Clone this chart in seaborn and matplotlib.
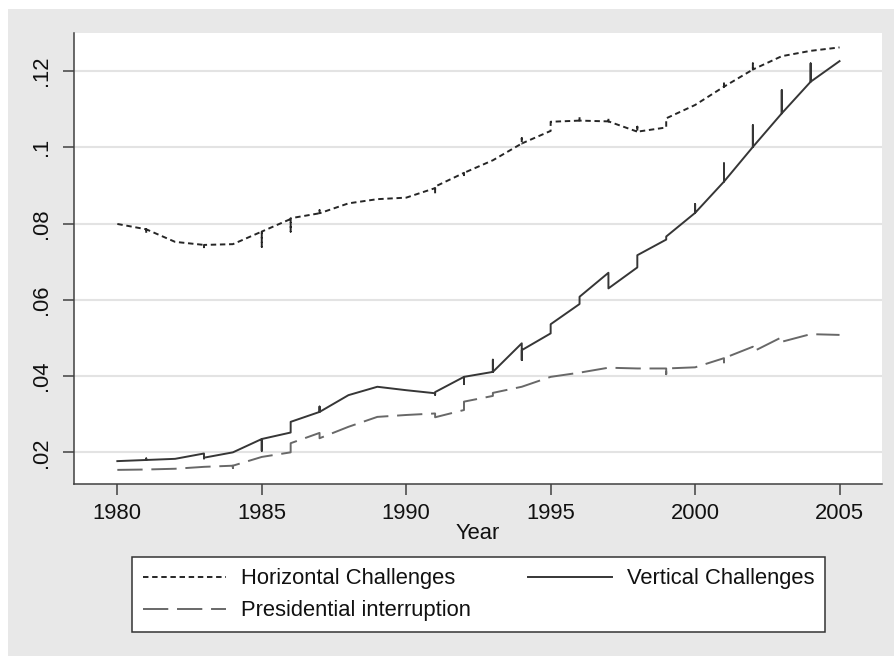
import matplotlib
matplotlib.use("Agg")
import matplotlib.pyplot as plt
from matplotlib.patches import Rectangle
import seaborn as sns
import pandas as pd
import numpy as np

plt.rcParams["font.family"] = ["Liberation Sans", "DejaVu Sans"]

# ---------------- data (per year: arrival value, tick extreme, departure value) -------------
years = list(range(1980, 2006))

horiz_in = [0.0799, 0.0785, 0.0752, 0.0744, 0.0746, 0.0779, 0.0812, 0.0827, 0.0853, 0.0864,
            0.0868, 0.0893, 0.0933, 0.0966, 0.1010, 0.1043, 0.1070, 0.1068, 0.1041, 0.1052,
            0.1111, 0.1159, 0.1204, 0.1239, 0.1253, 0.1262]
horiz_tick = [0.0799, 0.0774, 0.0752, 0.0738, 0.0746, 0.0739, 0.0779, 0.0835, 0.0853, 0.0864,
              0.0868, 0.0879, 0.0927, 0.0966, 0.1024, 0.1043, 0.1079, 0.1077, 0.1054, 0.1052,
              0.1111, 0.1172, 0.1220, 0.1239, 0.1253, 0.1262]
horiz_out = [0.0799, 0.0785, 0.0752, 0.0744, 0.0746, 0.0779, 0.0814, 0.0827, 0.0853, 0.0864,
             0.0868, 0.0897, 0.0933, 0.0966, 0.1010, 0.1067, 0.1070, 0.1068, 0.1041, 0.1076,
             0.1111, 0.1159, 0.1204, 0.1239, 0.1253, 0.1262]

vert_in = [0.0177, 0.0180, 0.0183, 0.0197, 0.0200, 0.0235, 0.0252, 0.0306, 0.0350, 0.0372,
           0.0363, 0.0355, 0.0398, 0.0411, 0.0486, 0.0512, 0.0589, 0.0671, 0.0685, 0.0758,
           0.0828, 0.0910, 0.1001, 0.1089, 0.1172, 0.1226]
vert_tick = [0.0177, 0.0184, 0.0183, 0.0184, 0.0200, 0.0204, 0.0252, 0.0320, 0.0350, 0.0372,
             0.0363, 0.0351, 0.0379, 0.0443, 0.0442, 0.0512, 0.0589, 0.0671, 0.0685, 0.0758,
             0.0851, 0.0958, 0.1058, 0.1150, 0.1220, 0.1226]
vert_out = [0.0177, 0.0180, 0.0183, 0.0186, 0.0200, 0.0235, 0.0280, 0.0306, 0.0350, 0.0372,
            0.0363, 0.0358, 0.0398, 0.0411, 0.0468, 0.0536, 0.0608, 0.0630, 0.0717, 0.0766,
            0.0828, 0.0910, 0.1001, 0.1089, 0.1172, 0.1226]

pres_in = [0.0154, 0.0155, 0.0157, 0.0162, 0.0165, 0.0188, 0.0200, 0.0251, 0.0267, 0.0293,
           0.0298, 0.0302, 0.0311, 0.0348, 0.0372, 0.0398, 0.0409, 0.0422, 0.0420, 0.0420,
           0.0423, 0.0447, 0.0477, 0.0502, 0.0510, 0.0508]
pres_tick = [0.0154, 0.0155, 0.0157, 0.0162, 0.0159, 0.0188, 0.0200, 0.0251, 0.0267, 0.0293,
             0.0298, 0.0302, 0.0311, 0.0348, 0.0372, 0.0398, 0.0409, 0.0422, 0.0420, 0.0405,
             0.0423, 0.0436, 0.0477, 0.0502, 0.0510, 0.0508]
pres_out = [0.0154, 0.0155, 0.0157, 0.0162, 0.0165, 0.0188, 0.0224, 0.0237, 0.0267, 0.0293,
            0.0298, 0.0292, 0.0333, 0.0356, 0.0372, 0.0398, 0.0409, 0.0422, 0.0420, 0.0420,
            0.0423, 0.0447, 0.0464, 0.0490, 0.0510, 0.0508]

series_names = ["Horizontal Challenges", "Vertical Challenges", "Presidential interruption"]
y_ticks = [0.02, 0.04, 0.06, 0.08, 0.10, 0.12]
y_tick_labels = [".02", ".04", ".06", ".08", ".1", ".12"]
x_ticks = [1980, 1985, 1990, 1995, 2000, 2005]

# ---------------- build long table ----------------
rows = []
for name, a, t, b in [(series_names[0], horiz_in, horiz_tick, horiz_out),
                      (series_names[1], vert_in, vert_tick, vert_out),
                      (series_names[2], pres_in, pres_tick, pres_out)]:
    for yr, v1, v2, v3 in zip(years, a, t, b):
        for v in (v1, v2, v3):
            rows.append({"Year": yr, "value": v, "series": name})
df = pd.DataFrame(rows)

# ---------------- figure ----------------
W, H = 894, 656
fig = plt.figure(figsize=(W / 100, H / 100), dpi=100, facecolor="white")
bg = "#e8e8e8"
fig.patches.append(Rectangle((8 / W, 0), 1 - 8 / W, 1 - 9 / H, transform=fig.transFigure,
                             facecolor=bg, edgecolor="none", zorder=-10))

left, right, top, bottom = 74, 882, 33.3, 484
ax = fig.add_axes([left / W, 1 - bottom / H, (right - left) / W, (bottom - top) / H])
ax.set_zorder(2)
ax.set_facecolor("white")

palette = {series_names[0]: "#262626", series_names[1]: "#363636", series_names[2]: "#686868"}
dashes = {series_names[0]: (2.8, 1.9), series_names[1]: "", series_names[2]: (13, 4.5)}

sns.lineplot(data=df, x="Year", y="value", hue="series", style="series",
             hue_order=series_names, style_order=series_names,
             palette=palette, dashes=dashes, sort=False, estimator=None,
             linewidth=1.4, ax=ax, legend=True)

ax.set_xlim(1978.5, 2006.47)
ax.set_ylim(0.0117, 0.1299)
ax.set_yticks(y_ticks)
ax.set_yticklabels(y_tick_labels, rotation=90, va="center")
ax.set_xticks(x_ticks)
ax.set_xticklabels([str(x) for x in x_ticks])

fs = 15.8
ax.tick_params(axis="both", labelsize=fs, length=8, width=1.1, color="#404040",
               labelcolor="#111111")
ax.tick_params(axis="y", pad=8)
ax.tick_params(axis="x", pad=6)
ax.grid(False)
for v in y_ticks:
    ax.axhline(v, color="#e3e3e3", linewidth=1.5, zorder=0)
for s in ["top", "right"]:
    ax.spines[s].set_visible(False)
for s in ["left", "bottom"]:
    ax.spines[s].set_color("#404040")
    ax.spines[s].set_linewidth(1.1)

ax.set_xlabel("Year", fontsize=fs, labelpad=-1, color="#111111")
ax.set_ylabel("")

handles, labels = ax.get_legend_handles_labels()
ax.legend_.remove()
leg_order = [series_names[0], series_names[2], series_names[1]]
hdl = [handles[labels.index(n)] for n in leg_order]
leg = fig.legend(hdl, leg_order, ncol=2, loc="center",
                 bbox_to_anchor=(478.5 / W, 1 - 594.7 / H), fontsize=fs,
                 frameon=True, fancybox=False, edgecolor="#333333", facecolor="white",
                 framealpha=1, handlelength=3.8, handletextpad=0.68, columnspacing=2.6,
                 labelspacing=0.5, borderpad=0.5, borderaxespad=0)
leg.get_frame().set_linewidth(1.1)
for t in leg.get_texts():
    t.set_color("#111111")

fig.savefig("out.png", dpi=100, facecolor=fig.get_facecolor())
